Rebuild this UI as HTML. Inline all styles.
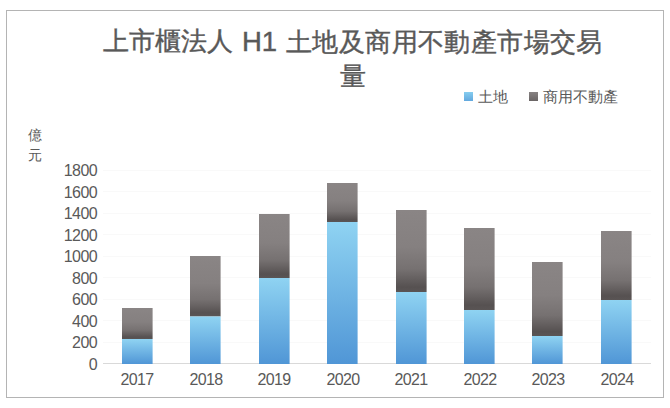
<!DOCTYPE html>
<html><head><meta charset="utf-8">
<style>
html,body{margin:0;padding:0;background:#fff;}
body{width:670px;height:408px;position:relative;overflow:hidden;font-family:"Liberation Sans",sans-serif;color:#595959;}
.frame{position:absolute;left:6px;top:10px;width:656px;height:386px;border:1px solid #b4b4b4;box-sizing:content-box;}
.t{position:absolute;white-space:nowrap;line-height:1;}
.title{left:0;width:704px;text-align:center;font-size:26.5px;color:#595959;}
.yl{font-size:16px;letter-spacing:-0.6px;text-align:right;width:60px;left:37px;}
.xl{font-size:16px;letter-spacing:-0.6px;text-align:center;width:60px;}
.leg{font-size:15px;}
.tt{-webkit-text-stroke:0.4px #595959;}
svg{position:absolute;left:0;top:0;}
</style></head><body>
<div class="frame"></div>
<svg width="670" height="408" viewBox="0 0 670 408">
<defs>
<linearGradient id="gb" x1="0" y1="0" x2="0" y2="1">
<stop offset="0" stop-color="#8fd3f2"/>
<stop offset="1" stop-color="#5096d6"/>
</linearGradient>
<linearGradient id="gg" x1="0" y1="0" x2="0" y2="1">
<stop offset="0" stop-color="#8a8585"/>
<stop offset="0.45" stop-color="#858080"/>
<stop offset="0.72" stop-color="#767171"/>
<stop offset="0.94" stop-color="#565151"/>
<stop offset="1" stop-color="#5a5555"/>
</linearGradient>
</defs>
<g stroke="#f9f9f9" stroke-width="1">
<line x1="103" y1="170.5" x2="651" y2="170.5"/>
<line x1="103" y1="191.5" x2="651" y2="191.5"/>
<line x1="103" y1="213.5" x2="651" y2="213.5"/>
<line x1="103" y1="234.5" x2="651" y2="234.5"/>
<line x1="103" y1="256.5" x2="651" y2="256.5"/>
<line x1="103" y1="277.5" x2="651" y2="277.5"/>
<line x1="103" y1="299.5" x2="651" y2="299.5"/>
<line x1="103" y1="320.5" x2="651" y2="320.5"/>
<line x1="103" y1="342.5" x2="651" y2="342.5"/>
</g>
<line x1="103" y1="363.5" x2="651" y2="363.5" stroke="#d9d9d9" stroke-width="1"/>
<g id="bars">
<rect x="122" y="308" width="30.6" height="31" fill="url(#gg)"/>
<rect x="122" y="339" width="30.6" height="25" fill="url(#gb)"/>
<rect x="190" y="256" width="30.6" height="60.5" fill="url(#gg)"/>
<rect x="190" y="316.5" width="30.6" height="47.5" fill="url(#gb)"/>
<rect x="259" y="214" width="30.6" height="64" fill="url(#gg)"/>
<rect x="259" y="278" width="30.6" height="86" fill="url(#gb)"/>
<rect x="327" y="183" width="30.6" height="39" fill="url(#gg)"/>
<rect x="327" y="222" width="30.6" height="142" fill="url(#gb)"/>
<rect x="396" y="210" width="30.6" height="82" fill="url(#gg)"/>
<rect x="396" y="292" width="30.6" height="72" fill="url(#gb)"/>
<rect x="464" y="228" width="30.6" height="82" fill="url(#gg)"/>
<rect x="464" y="310" width="30.6" height="54" fill="url(#gb)"/>
<rect x="532" y="262" width="30.6" height="74" fill="url(#gg)"/>
<rect x="532" y="336" width="30.6" height="28" fill="url(#gb)"/>
<rect x="601" y="231" width="30.6" height="69" fill="url(#gg)"/>
<rect x="601" y="300" width="30.6" height="64" fill="url(#gb)"/>
</g>
</svg>
<div class="t tt" style="left:103px;top:29px;font-size:25.8px;">上市櫃法人</div>
<div class="t tt" style="left:242px;top:27.5px;font-size:27.5px;">H1</div>
<div class="t tt" style="left:286px;top:29px;font-size:26px;letter-spacing:0.4px;">土地及商用不動產市場交易</div>
<div class="t tt" style="left:340px;top:64px;font-size:25.8px;">量</div>

<div class="t leg" style="left:464px;top:92px;width:9px;height:9px;background:linear-gradient(#86cdef,#62a8de);"></div>
<div class="t leg" style="left:478px;top:89px;">土地</div>
<div class="t leg" style="left:529px;top:92px;width:9px;height:9px;background:linear-gradient(#878282,#6a6565);"></div>
<div class="t leg" style="left:543px;top:89px;">商用不動產</div>

<div class="t" style="left:28px;top:128px;font-size:14px;">億</div>
<div class="t" style="left:28px;top:148px;font-size:14px;">元</div>

<div class="t yl" style="top:163px;">1800</div>
<div class="t yl" style="top:185px;">1600</div>
<div class="t yl" style="top:206px;">1400</div>
<div class="t yl" style="top:228px;">1200</div>
<div class="t yl" style="top:249px;">1000</div>
<div class="t yl" style="top:271px;">800</div>
<div class="t yl" style="top:292px;">600</div>
<div class="t yl" style="top:314px;">400</div>
<div class="t yl" style="top:335px;">200</div>
<div class="t yl" style="top:357px;">0</div>

<div class="t xl" style="left:107px;top:372px;">2017</div>
<div class="t xl" style="left:176px;top:372px;">2018</div>
<div class="t xl" style="left:244px;top:372px;">2019</div>
<div class="t xl" style="left:313px;top:372px;">2020</div>
<div class="t xl" style="left:381px;top:372px;">2021</div>
<div class="t xl" style="left:450px;top:372px;">2022</div>
<div class="t xl" style="left:518px;top:372px;">2023</div>
<div class="t xl" style="left:587px;top:372px;">2024</div>
</body></html>
